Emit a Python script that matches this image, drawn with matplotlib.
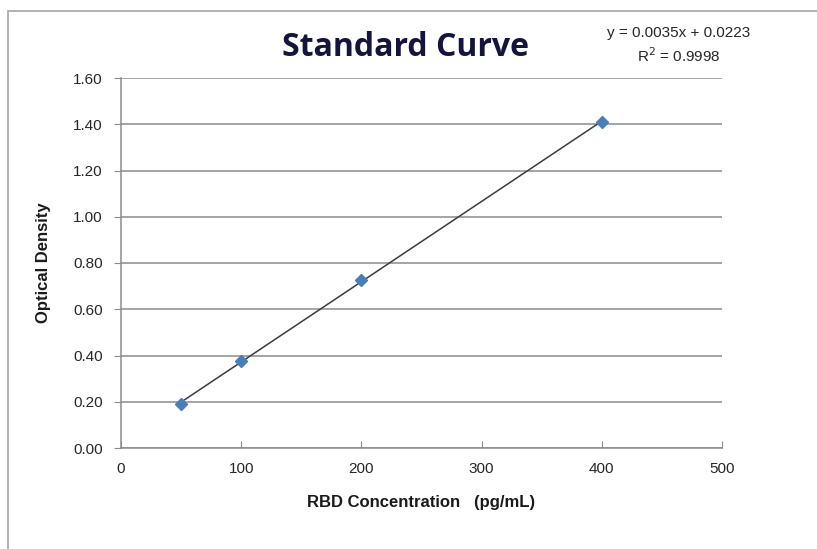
import matplotlib

matplotlib.use("Agg")
import matplotlib.pyplot as plt
import numpy as np
from matplotlib.patches import Rectangle

# data
concentration = [50, 100, 200, 400]
optical_density = [0.19, 0.378, 0.725, 1.41]
x_ticks = [0, 100, 200, 300, 400, 500]
y_ticks = [0.0, 0.2, 0.4, 0.6, 0.8, 1.0, 1.2, 1.4, 1.6]
equation_text = "y = 0.0035x + 0.0223"
r2_text = "R$^2$ = 0.9998"

plt.rcParams["font.family"] = ["Liberation Sans", "DejaVu Sans"]

fig = plt.figure(figsize=(8.17, 5.49), dpi=100)
ax = fig.add_axes([121 / 817, 1 - 448 / 549, 601 / 817, 370 / 549])

# chart frame (outer border, partially cut off like the screenshot)
fig.patches.append(Rectangle((8 / 817, -0.1), 1.2, (549 - 11) / 549 + 0.1,
                             transform=fig.transFigure, fill=False,
                             edgecolor="#a6a6a6", linewidth=1.2))

slope, intercept = np.polyfit(concentration, optical_density, 1)
fit_x = np.array([min(concentration), max(concentration)])
ax.plot(fit_x, slope * fit_x + intercept, color="#3c3c3c", linewidth=1.1, zorder=3)
ax.plot(concentration, optical_density, linestyle="none", marker="D", markersize=6,
        color="#4a7ebb", markeredgecolor="#4a7ebb", zorder=4)

ax.set_xlim(0, 500)
ax.set_ylim(0, 1.6)
ax.set_xticks(x_ticks)
ax.set_yticks(y_ticks)
ax.set_yticklabels([f"{v:.2f}" for v in y_ticks])
ax.grid(axis="y", color="#8c8c8c", linewidth=1.1)
ax.set_axisbelow(True)
for side in ("top", "right"):
    ax.spines[side].set_visible(False)
for side in ("left", "bottom"):
    ax.spines[side].set_color("#8c8c8c")
    ax.spines[side].set_linewidth(1.1)
ax.tick_params(axis="y", direction="out", length=5, color="#8c8c8c", labelsize=11,
               labelcolor="#262626", pad=8)
ax.tick_params(axis="x", direction="in", length=5, color="#8c8c8c", labelsize=11,
               labelcolor="#262626", pad=10)

ax.set_xlabel("RBD Concentration   (pg/mL)", fontsize=12, fontweight="bold",
              color="#1a1a1a", labelpad=14)
ax.set_ylabel("Optical Density", fontsize=12, fontweight="bold", color="#1a1a1a",
              labelpad=16)

fig.text(406 / 817, 1 - 48 / 549, "Standard Curve", ha="center", va="center",
         fontsize=23, fontweight="bold", color="#14143c", family=["Open Sans", "DejaVu Sans"])
fig.text(679 / 817, 1 - 33 / 549, equation_text, ha="center", va="center",
         fontsize=11, color="#262626")
fig.text(679 / 817, 1 - 56 / 549, r2_text, ha="center", va="center",
         fontsize=11, color="#262626")

fig.savefig("out.png", dpi=100)
